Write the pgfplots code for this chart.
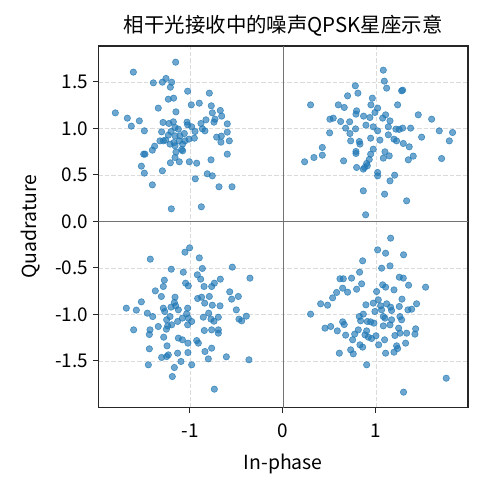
\documentclass[border=0pt]{standalone}
\usepackage{fontspec}
\setmainfont{Noto Sans CJK SC}
\usepackage{pgfplots}
\usepackage{pgfplotstable}
\pgfplotsset{compat=1.18}
\definecolor{c1}{HTML}{1F77B4}

\pgfplotstableread{
x y
-1.154 1.713
-1.609 1.606
-1.394 1.491
-1.297 1.498
-1.258 1.538
-1.197 1.498
-1.211 1.444
-1.025 1.401
-0.792 1.380
-1.233 1.315
-1.176 1.326
-0.986 1.254
-0.900 1.272
-0.771 1.244
-1.341 1.219
-1.151 1.179
-1.803 1.168
-1.674 1.111
-1.545 1.082
-1.631 1.025
-1.491 0.975
-0.760 1.168
-0.674 1.194
-0.659 1.133
-0.731 1.100
-0.742 1.068
-0.828 1.093
-0.882 1.054
-0.599 1.050
-0.867 0.996
-0.839 0.975
-0.599 0.961
-0.713 0.907
-0.663 0.918
-0.577 0.867
-0.667 0.853
-0.599 0.724
-0.774 0.663
-0.814 0.513
-0.760 0.491
-0.688 0.373
-0.548 0.373
-0.943 0.459
-0.878 0.158
-1.201 0.136
-1.405 0.394
-1.491 0.520
-1.523 0.595
-1.297 0.545
-1.498 0.724
-1.484 0.724
-1.405 0.767
-1.380 0.810
-1.211 0.631
-1.115 0.642
-1.007 0.642
-0.928 0.627
-1.161 0.688
-1.151 0.746
-1.090 0.774
-1.079 0.760
-1.323 0.867
-1.287 0.867
-1.262 0.875
-1.305 0.964
-1.290 1.065
-1.226 1.054
-1.179 1.072
-1.204 0.968
-1.161 1.011
-1.125 0.993
-1.161 0.921
-1.172 0.849
-1.108 0.921
-1.061 0.946
-1.032 1.068
-1.025 1.039
-0.982 1.018
-1.011 0.885
-1.054 0.867
-0.953 0.896
-0.946 0.968
-1.079 0.832
-1.233 0.928
-1.118 0.867
-1.215 0.832
-1.161 0.814
}\qone

\pgfplotstableread{
x y
1.079 1.627
1.090 1.509
1.115 1.434
1.276 1.405
1.287 1.412
0.778 1.459
0.806 1.380
0.695 1.351
0.961 1.326
1.233 1.254
0.297 1.254
0.595 1.254
0.659 1.226
0.946 1.254
1.018 1.219
0.792 1.190
0.785 1.154
0.867 1.133
0.935 1.118
0.989 1.172
1.104 1.147
1.072 1.111
1.151 1.082
0.505 1.100
0.541 1.111
0.620 1.075
0.717 1.072
1.455 1.147
1.599 1.100
0.674 1.004
0.781 0.996
0.892 1.036
0.971 1.018
1.018 0.975
1.133 1.018
1.215 0.993
1.287 1.004
1.373 1.004
1.250 0.990
1.681 0.975
1.824 0.957
1.789 0.867
1.491 0.907
0.502 0.953
0.720 0.946
0.728 0.867
0.821 0.860
0.828 0.832
0.943 0.896
1.043 0.875
1.133 0.932
1.194 0.885
1.222 0.867
1.294 0.839
1.358 0.803
0.423 0.796
0.423 0.713
0.333 0.688
0.233 0.642
0.652 0.652
0.785 0.731
0.785 0.753
0.971 0.778
0.943 0.724
0.928 0.667
0.900 0.624
0.878 0.581
0.864 0.563
0.792 0.581
1.097 0.749
1.079 0.681
1.143 0.706
1.348 0.663
1.401 0.703
1.706 0.677
1.018 0.527
1.018 0.491
1.201 0.498
1.151 0.437
0.864 0.330
1.093 0.294
1.330 0.222
0.889 0.072
0.907 0.599
}\qtwo

\pgfplotstableread{
x y
-1.004 -0.283
-1.054 -0.330
-1.427 -0.405
-0.900 -0.391
-1.201 -0.513
-1.072 -0.545
-0.867 -0.505
-0.545 -0.491
-0.921 -0.573
-0.885 -0.620
-0.674 -0.620
-0.355 -0.609
-1.276 -0.631
-1.287 -0.699
-1.373 -0.746
-1.047 -0.663
-1.018 -0.692
-0.849 -0.699
-0.767 -0.699
-0.738 -0.663
-0.573 -0.756
-0.552 -0.835
-0.480 -0.806
-1.308 -0.806
-1.161 -0.814
-0.918 -0.828
-0.875 -0.814
-0.792 -0.806
-0.842 -0.878
-1.523 -0.864
-1.685 -0.932
-1.577 -0.953
-1.459 -0.986
-1.401 -1.022
-1.287 -0.932
-1.272 -0.968
-1.168 -0.871
-1.154 -0.907
-1.204 -0.921
-1.125 -0.950
-1.025 -0.932
-1.036 -0.993
-0.760 -0.900
-0.677 -0.907
-0.799 -0.986
-0.857 -1.029
-0.774 -1.050
-0.695 -1.029
-0.742 -1.072
-0.502 -0.950
-0.473 -1.050
-0.444 -1.068
-0.394 -1.018
-1.606 -1.165
-1.430 -1.165
-1.437 -1.215
-1.341 -1.129
-1.251 -1.057
-1.215 -1.022
-1.240 -1.122
-1.254 -1.158
-1.197 -1.111
-1.133 -1.075
-1.082 -1.039
-1.018 -1.039
-0.982 -1.075
-1.025 -1.111
-1.283 -1.244
-1.125 -1.254
-1.082 -1.272
-1.022 -1.308
-0.928 -1.280
-0.910 -1.308
-0.846 -1.172
-0.767 -1.165
-0.695 -1.165
-0.695 -1.201
-1.247 -1.337
-1.437 -1.369
-0.767 -1.362
-0.839 -1.398
-1.305 -1.462
-1.251 -1.452
-1.233 -1.434
-1.133 -1.416
-1.022 -1.409
-0.803 -1.477
-0.609 -1.455
-0.366 -1.487
-1.448 -1.541
-1.097 -1.505
-0.982 -1.541
-1.168 -1.570
-1.190 -1.667
-0.738 -1.803
}\qthree

\pgfplotstableread{
x y
1.158 -0.179
1.018 -0.305
1.104 -0.341
1.297 -0.358
0.857 -0.423
1.151 -0.477
1.061 -0.502
0.824 -0.545
0.613 -0.616
0.649 -0.616
0.738 -0.609
0.846 -0.670
0.642 -0.717
0.695 -0.760
0.792 -0.728
0.577 -0.763
0.534 -0.821
0.405 -0.885
0.480 -0.900
0.297 -0.996
1.007 -0.753
1.072 -0.681
1.104 -0.706
1.194 -0.735
1.251 -0.599
1.294 -0.609
1.351 -0.685
1.534 -0.706
1.280 -0.835
1.437 -0.885
1.384 -0.943
1.344 -0.950
0.892 -0.896
0.971 -0.878
1.025 -0.842
1.050 -0.907
1.115 -0.885
1.158 -0.921
1.061 -0.950
1.168 -0.957
1.251 -0.914
0.864 -0.996
0.821 -1.022
0.989 -0.968
1.097 -1.039
1.168 -1.057
1.258 -1.022
1.276 -1.057
0.907 -1.075
0.943 -1.079
0.978 -1.093
1.079 -1.122
1.151 -1.111
0.642 -1.079
0.659 -1.108
0.452 -1.147
0.513 -1.129
0.584 -1.176
0.674 -1.222
0.771 -1.211
0.810 -1.165
0.900 -1.176
0.882 -1.219
0.918 -1.244
0.953 -1.258
1.000 -1.229
1.244 -1.147
1.258 -1.201
1.330 -1.201
1.427 -1.154
1.419 -1.211
0.749 -1.272
1.093 -1.272
1.204 -1.226
1.319 -1.308
0.828 -1.326
0.857 -1.351
1.029 -1.326
1.222 -1.337
1.233 -1.366
0.728 -1.380
0.756 -1.423
0.606 -1.416
1.104 -1.416
1.194 -1.405
0.900 -1.541
1.756 -1.685
1.297 -1.835
1.079 -1.022
0.835 -1.068
}\qfour

\begin{document}
\begin{tikzpicture}
\begin{axis}[
  name=ax,
  scale only axis,
  width=369.5bp, height=361.5bp,
  xmin=-1.984, xmax=1.99, ymin=-2.0, ymax=1.887,
  xtick={-1,0,1}, xticklabels={-1,0,1},
  ytick={-1.5,-1,-0.5,0,0.5,1,1.5},
  yticklabels={-1.5,-1.0,-0.5,0.0,0.5,1.0,1.5},
  xtick pos=lower, ytick pos=left,
  tick align=outside,
  major tick length=5bp,
  tick style={black!85, line width=1bp},
  axis line style={black!85, line width=1.1bp},
  grid=major,
  major grid style={black!14, line width=0.8bp, dash pattern=on 4.5bp off 2bp},
  ticklabel style={font=\fontsize{19}{22}\selectfont},
  xticklabel style={yshift=-8bp},
  yticklabel style={xshift=-2bp},
  label style={font=\fontsize{19.5}{23}\selectfont},
  xlabel={In-phase},
  xlabel style={yshift=-9bp},
  ylabel={Quadrature},
  ylabel style={yshift=8bp},
  title={相干光接收中的噪声QPSK星座示意},
  title style={font=\fontsize{20.5}{24}\selectfont, yshift=0bp},
]
\draw[black!55, line width=0.7bp] (axis cs:0,-2.0) -- (axis cs:0,1.887);
\draw[black!55, line width=0.7bp] (axis cs:-1.984,0) -- (axis cs:1.99,0);
\addplot[only marks, mark=*, mark size=3.2bp, draw=c1, fill=c1, draw opacity=0.75, fill opacity=0.65, line width=0.6bp] table {\qone};
\addplot[only marks, mark=*, mark size=3.2bp, draw=c1, fill=c1, draw opacity=0.75, fill opacity=0.65, line width=0.6bp] table {\qtwo};
\addplot[only marks, mark=*, mark size=3.2bp, draw=c1, fill=c1, draw opacity=0.75, fill opacity=0.65, line width=0.6bp] table {\qthree};
\addplot[only marks, mark=*, mark size=3.2bp, draw=c1, fill=c1, draw opacity=0.75, fill opacity=0.65, line width=0.6bp] table {\qfour};
\end{axis}
\pgfresetboundingbox
\path[use as bounding box] ([shift={(-98.5bp,-82.5bp)}]ax.south west) rectangle ([shift={(15bp,46bp)}]ax.north east);
\end{tikzpicture}
\end{document}
